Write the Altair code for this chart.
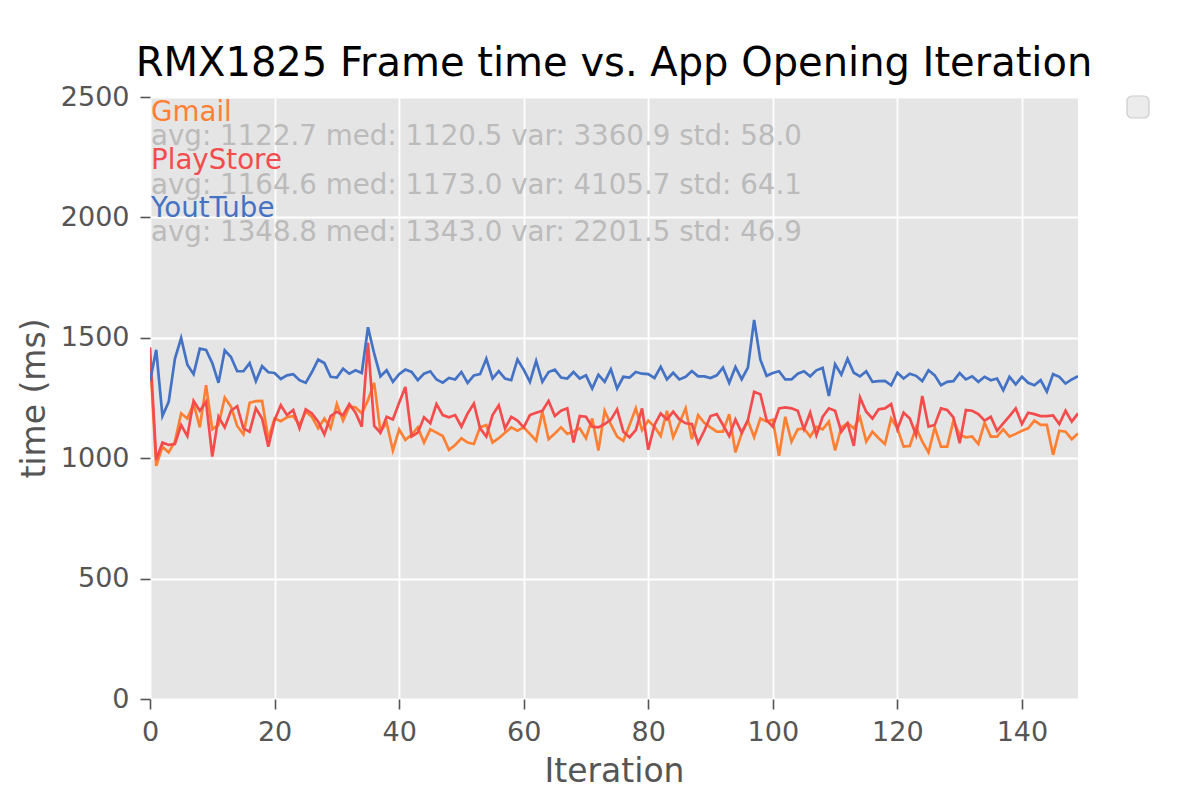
import altair as alt
import pandas as pd

iterations = list(range(150))

youtube = [1320, 1450, 1175, 1234, 1413, 1499, 1388, 1349, 1455, 1450,
           1395, 1313, 1448, 1420, 1361, 1361, 1395, 1320, 1382, 1357,
           1354, 1329, 1344, 1349, 1324, 1313, 1358, 1409, 1395, 1338,
           1335, 1372, 1351, 1365, 1354, 1544, 1434, 1340, 1365, 1317,
           1349, 1368, 1358, 1324, 1351, 1361, 1327, 1314, 1333, 1327,
           1358, 1313, 1344, 1349, 1413, 1331, 1362, 1331, 1324, 1410,
           1368, 1317, 1404, 1317, 1358, 1368, 1335, 1331, 1358, 1331,
           1344, 1289, 1347, 1317, 1369, 1289, 1338, 1335, 1358, 1351,
           1349, 1333, 1379, 1327, 1355, 1327, 1338, 1362, 1340, 1340,
           1333, 1344, 1376, 1313, 1379, 1328, 1376, 1574, 1409, 1342,
           1354, 1361, 1327, 1327, 1351, 1361, 1340, 1365, 1375, 1258,
           1390, 1347, 1413, 1355, 1340, 1361, 1317, 1320, 1321, 1303,
           1355, 1331, 1351, 1342, 1320, 1365, 1344, 1303, 1317, 1320,
           1354, 1327, 1340, 1317, 1338, 1324, 1331, 1282, 1338, 1307,
           1338, 1313, 1303, 1324, 1276, 1349, 1338, 1310, 1327, 1340]

playstore = [1460, 993, 1065, 1055, 1059, 1138, 1092, 1238, 1197, 1234,
             1007, 1172, 1128, 1197, 1216, 1124, 1110, 1207, 1165, 1048,
             1158, 1220, 1179, 1200, 1124, 1203, 1186, 1152, 1099, 1175,
             1193, 1179, 1225, 1189, 1131, 1479, 1134, 1106, 1172, 1161,
             1230, 1296, 1090, 1106, 1170, 1145, 1225, 1179, 1170, 1179,
             1131, 1186, 1227, 1124, 1090, 1179, 1220, 1124, 1172, 1156,
             1128, 1179, 1189, 1197, 1238, 1175, 1197, 1207, 1065, 1175,
             1172, 1131, 1128, 1142, 1160, 1203, 1110, 1087, 1117, 1207,
             1035, 1138, 1186, 1161, 1193, 1161, 1145, 1142, 1062, 1114,
             1175, 1183, 1138, 1092, 1161, 1106, 1158, 1276, 1266, 1158,
             1131, 1207, 1211, 1207, 1197, 1120, 1189, 1096, 1172, 1207,
             1197, 1110, 1145, 1051, 1252, 1193, 1165, 1203, 1207, 1225,
             1120, 1189, 1165, 1096, 1258, 1131, 1138, 1207, 1200, 1170,
             1062, 1200, 1197, 1183, 1156, 1172, 1114, 1145, 1175, 1207,
             1142, 1189, 1183, 1175, 1175, 1178, 1142, 1197, 1152, 1186]

gmail = [1420, 968, 1048, 1024, 1069, 1186, 1165, 1227, 1128, 1303,
         1120, 1138, 1252, 1214, 1134, 1099, 1230, 1237, 1238, 1080,
         1165, 1154, 1170, 1175, 1138, 1193, 1172, 1124, 1165, 1124,
         1225, 1156, 1214, 1211, 1186, 1241, 1313, 1110, 1147, 1032,
         1120, 1076, 1097, 1128, 1065, 1120, 1106, 1092, 1035, 1055,
         1083, 1065, 1059, 1128, 1138, 1065, 1083, 1106, 1128, 1114,
         1128, 1101, 1073, 1193, 1079, 1103, 1128, 1101, 1110, 1124,
         1083, 1165, 1032, 1197, 1140, 1090, 1072, 1138, 1207, 1117,
         1156, 1131, 1092, 1197, 1087, 1145, 1207, 1079, 1179, 1147,
         1128, 1110, 1110, 1183, 1024, 1103, 1156, 1087, 1165, 1152,
         1160, 1010, 1172, 1069, 1120, 1124, 1090, 1131, 1120, 1152,
         1032, 1128, 1145, 1124, 1170, 1069, 1110, 1083, 1059, 1165,
         1124, 1048, 1051, 1128, 1069, 1024, 1128, 1048, 1048, 1156,
         1097, 1087, 1090, 1059, 1147, 1090, 1090, 1120, 1090, 1101,
         1114, 1124, 1156, 1138, 1138, 1014, 1114, 1110, 1079, 1103]

series_names = ["Gmail", "PlayStore", "YoutTube"]
series_values = [gmail, playstore, youtube]
series_colors = ["#ff8033", "#f44c4c", "#4472c4"]
stats_lines = [
    "avg: 1122.7 med: 1120.5 var: 3360.9 std: 58.0",
    "avg: 1164.6 med: 1173.0 var: 4105.7 std: 64.1",
    "avg: 1348.8 med: 1343.0 var: 2201.5 std: 46.9",
]
x_ticks = [0, 20, 40, 60, 80, 100, 120, 140]
y_ticks = [0, 500, 1000, 1500, 2000, 2500]

FONT = "DejaVu Sans"

x_enc = alt.X("iteration:Q", title="Iteration",
              scale=alt.Scale(domain=[0, 149], nice=False, zero=False),
              axis=alt.Axis(values=x_ticks, format="d", labelFlush=False,
                            labelOverlap=False, labelPadding=10, titlePadding=10))
y_enc = alt.Y("time:Q", title="time (ms)",
              scale=alt.Scale(domain=[0, 2500], nice=False),
              axis=alt.Axis(values=y_ticks, format="d", labelFlush=False,
                            labelOverlap=False, labelPadding=11, titlePadding=9))

layers = []
for name, vals, col in zip(series_names, series_values, series_colors):
    df = pd.DataFrame({"iteration": iterations, "time": vals, "app": name})
    layers.append(
        alt.Chart(df).mark_line(color=col, strokeWidth=2.7, clip=True)
        .encode(x=x_enc, y=y_enc)
    )

# text annotations (series name + stats), stacked at the top-left of the plot
dummy = pd.DataFrame({"k": [0]})
text_y = [16, 40, 64, 89, 112, 136]
for i, (name, col, stats) in enumerate(zip(series_names, series_colors, stats_lines)):
    layers.append(
        alt.Chart(dummy).mark_text(text=name, color=col, font=FONT, fontSize=27.7,
                                   align="left", baseline="middle")
        .encode(x=alt.value(1), y=alt.value(text_y[2 * i]))
    )
    layers.append(
        alt.Chart(dummy).mark_text(text=stats, color="#bbbbbb", font=FONT, fontSize=27.7,
                                   align="left", baseline="middle")
        .encode(x=alt.value(1), y=alt.value(text_y[2 * i + 1]))
    )

# empty legend box at right
layers.append(
    alt.Chart(dummy).mark_rect(fill="#ececec", stroke="#cccccc", strokeWidth=1.2,
                               cornerRadius=5)
    .encode(x=alt.value(977), x2=alt.value(999), y=alt.value(-1), y2=alt.value(21))
)

chart = alt.layer(*layers).properties(
    width=928,
    height=602,
    title=alt.TitleParams("RMX1825 Frame time vs. App Opening Iteration",
                          font=FONT, fontSize=40, fontWeight="normal",
                          color="black", offset=-1),
    autosize=alt.AutoSizeParams(type="none"),
    padding={"left": 142, "top": 89, "right": 114, "bottom": 93},
).configure_view(
    fill="#e5e5e5", stroke=None
).configure_axis(
    grid=True, gridColor="white", gridWidth=1.8,
    domain=False,
    tickColor="#555555", tickSize=10, tickWidth=1.6,
    labelColor="#555555", labelFont=FONT, labelFontSize=27,
    titleColor="#555555", titleFont=FONT, titleFontSize=33, titleFontWeight="normal",
)

chart.save("out.html", embed_options={"renderer": "svg", "actions": False})
